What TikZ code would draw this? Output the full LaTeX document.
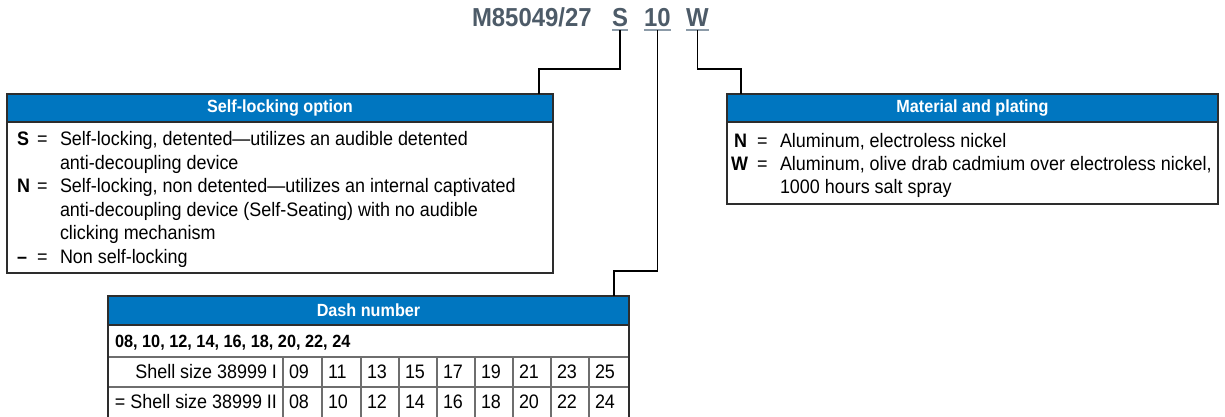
\documentclass[tikz,border=0pt]{standalone}
\usepackage{fontspec}
\setmainfont{Liberation Sans}[FakeStretch=0.92]
\definecolor{hblue}{RGB}{0,118,192}
\definecolor{ttl}{RGB}{77,91,104}
\definecolor{uline}{RGB}{140,155,168}
\definecolor{bord}{RGB}{45,45,45}
\definecolor{gridc}{RGB}{110,110,110}
\begin{document}
\begin{tikzpicture}[x=1pt,y=-1pt,
  every node/.style={inner sep=0pt, outer sep=0pt},
  boxframe/.style={draw=bord, line width=1.4pt, anchor=north west},
  headbar/.style={fill=hblue, draw=bord, line width=1.4pt, anchor=north west},
  headtxt/.style={text=white, font=\fontsize{17.6}{20}\selectfont\bfseries},
  ttltxt/.style={text=ttl, font=\fontsize{26}{30}\selectfont\bfseries, anchor=base west},
  bodytxt/.style={font=\fontsize{19.5}{23.4}\selectfont, anchor=base west},
  keyletter/.style={font=\fontsize{19.5}{23.4}\selectfont\bfseries, anchor=base west},
  tblbold/.style={font=\fontsize{17.7}{20}\selectfont\bfseries, anchor=base west},
  cellbox/.style={draw=gridc, line width=1.2pt, anchor=north west},
  lnk/.style={draw=black, line width=1.3pt},
  ulin/.style={draw=uline, line width=2pt},
]
\useasboundingbox (0,0) rectangle (1225,417);

% ---- title ----
\node[ttltxt] (tmain) at (472,27) {M85049/27};
\node[ttltxt] (tS) at (612,27) {S};
\node[ttltxt] (tten) at (644,27) {10};
\node[ttltxt] (tW) at (686,27) {W};
\draw[ulin] ([yshift=-3.5pt]tS.base west) -- ([yshift=-3.5pt]tS.base east);
\draw[ulin] ([yshift=-3.5pt]tten.base west) -- ([yshift=-3.5pt]tten.base east);
\draw[ulin] ([yshift=-3.5pt]tW.base west) -- ([yshift=-3.5pt]tW.base east);
\coordinate (uS) at ([yshift=-3.5pt]tS.base);
\coordinate (uten) at ([yshift=-3.5pt]tten.base);
\coordinate (uW) at ([yshift=-3.5pt]tW.base);

% ---- self-locking box ----
\node[boxframe, minimum width=546pt, minimum height=179pt] (slbox) at (7,94) {};
\node[headbar, minimum width=546pt, minimum height=28pt] (slhead) at (7,94) {};
\node[headtxt] (slheadtxt) at (slhead.center) {Self-locking option};
\node[keyletter] (slS) at (17,146) {S};
\node[bodytxt] (slSeq) at (37,146) {=};
\node[bodytxt] (slSa) at (60,146) {Self-locking, detented—utilizes an audible detented};
\node[bodytxt] (slSb) at (60,169.4) {anti-decoupling device};
\node[keyletter] (slN) at (17,192.8) {N};
\node[bodytxt] (slNeq) at (37,192.8) {=};
\node[bodytxt] (slNa) at (60,192.8) {Self-locking, non detented—utilizes an internal captivated};
\node[bodytxt] (slNb) at (60,216.2) {anti-decoupling device (Self-Seating) with no audible};
\node[bodytxt] (slNc) at (60,239.6) {clicking mechanism};
\node[keyletter] (slD) at (17,263) {–};
\node[bodytxt] (slDeq) at (37,263) {=};
\node[bodytxt] (slDa) at (60,263) {Non self-locking};

% ---- material box ----
\node[boxframe, minimum width=491pt, minimum height=110pt] (mbox) at (727,94) {};
\node[headbar, minimum width=491pt, minimum height=28pt] (mhead) at (727,94) {};
\node[headtxt] (mheadtxt) at (mhead.center) {Material and plating};
\node[keyletter] (mN) at (734,147) {N};
\node[bodytxt] (mNeq) at (757,147) {=};
\node[bodytxt] (mNa) at (780,147) {Aluminum, electroless nickel};
\node[keyletter] (mW) at (731,170.4) {W};
\node[bodytxt] (mWeq) at (757,170.4) {=};
\node[bodytxt] (mWa) at (780,170.4) {Aluminum, olive drab cadmium over electroless nickel,};
\node[bodytxt] (mWb) at (780,193.8) {1000 hours salt spray};

% ---- dash number table ----
\node[cellbox, minimum width=521pt, minimum height=32pt] (drow1) at (108,325) {};
\node[tblbold] (drow1txt) at (115,347) {08, 10, 12, 14, 16, 18, 20, 22, 24};
\node[cellbox, minimum width=175pt, minimum height=30pt] (dlab2) at (108,357) {};
\node[cellbox, minimum width=175pt, minimum height=32pt] (dlab3) at (108,387) {};
\node[bodytxt, anchor=base east] (dlab2txt) at (277,378) {Shell size 38999 I};
\node[bodytxt, anchor=base east] (dlab3txt) at (277,408) {= Shell size 38999 II};
\foreach \a/\b/\u/\l [count=\i] in {283/322/09/08,322/361/11/10,361/399/13/12,399/437/15/14,437/475/17/16,475/513/19/18,513/551/21/20,551/589/23/22,589/629/25/24}{
  \pgfmathsetmacro\cw{\b-\a}
  \node[cellbox, minimum width=\cw pt, minimum height=30pt] (dc2\i) at (\a,357) {};
  \node[cellbox, minimum width=\cw pt, minimum height=32pt] (dc3\i) at (\a,387) {};
  \node[bodytxt] (dt2\i) at (\a+6,378) {\u};
  \node[bodytxt] (dt3\i) at (\a+6,408) {\l};
}
\node[headbar, minimum width=521pt, minimum height=29pt] (dhead) at (108,296) {};
\node[headtxt] (dheadtxt) at (dhead.center) {Dash number};
\draw[draw=bord, line width=1.4pt] (dhead.south west) -- (dlab3.south west |- 0,420);
\draw[draw=bord, line width=1.4pt] (dhead.south east) -- (dc39.south east |- 0,420);

% ---- connectors ----
\coordinate (sbend) at (539,69);
\coordinate (tenbend) at (614,271);
\coordinate (wbend) at (741,69);
\draw[lnk] (uS) |- (sbend) -- (sbend |- slhead.north);
\draw[lnk] (uten) |- (tenbend) -- (tenbend |- dhead.north);
\draw[lnk] (uW) |- (wbend) -- (wbend |- mhead.north);
\end{tikzpicture}
\end{document}
